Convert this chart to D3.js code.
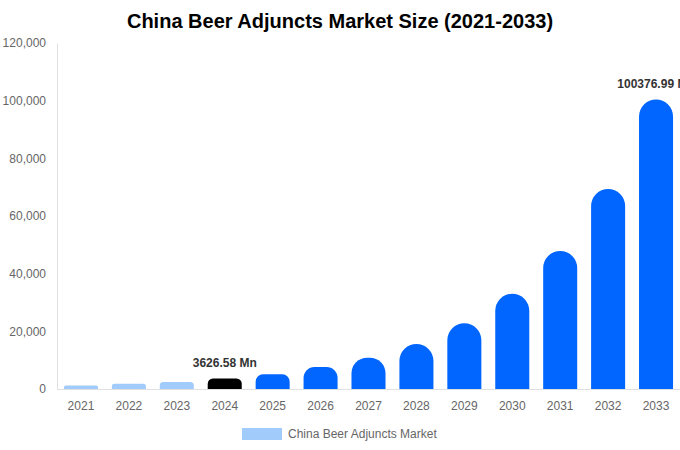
<!DOCTYPE html>
<html>
<head>
<meta charset="utf-8">
<script src="https://cdn.jsdelivr.net/npm/d3@7"></script>
<style>
  html, body { margin: 0; padding: 0; background: #fff; }
  svg { display: block; font-family: "Liberation Sans", Arial, Helvetica, sans-serif; }
</style>
</head>
<body>
<div id="chart"></div>
<script>
// datos
const years = ["2021", "2022", "2023", "2024", "2025", "2026", "2027", "2028", "2029", "2030", "2031", "2032", "2033"];
const values = [1250, 1840, 2430, 3626.58, 5100, 7630, 10860, 15600, 22790, 33060, 47870, 69370, 100376.99];
const barColors = ["#a0cbfa", "#a0cbfa", "#a0cbfa", "#000000", "#0066ff", "#0066ff", "#0066ff", "#0066ff", "#0066ff", "#0066ff", "#0066ff", "#0066ff", "#0066ff"];
const labelled = ["2024", "2033"];
const yTicks = [0, 20000, 40000, 60000, 80000, 100000, 120000];
const legendLabel = "China Beer Adjuncts Market";
const title = "China Beer Adjuncts Market Size (2021-2033)";

const width = 680, height = 450;
const margin = { top: 43, right: 0, bottom: 61, left: 57 };

const svg = d3.select("#chart").append("svg")
    .attr("width", width)
    .attr("height", height);

const x = d3.scaleBand()
    .domain(years)
    .range([margin.left, width - margin.right])
    .paddingInner(0.29)
    .paddingOuter(0.145);

const y = d3.scaleLinear()
    .domain([0, 120000])
    .range([height - margin.bottom, margin.top]);

// título
svg.append("text")
    .attr("x", width / 2)
    .attr("y", 28)
    .attr("text-anchor", "middle")
    .attr("font-size", 20)
    .attr("font-weight", "bold")
    .attr("fill", "#000")
    .text(title);

// eje y
const yAxis = svg.append("g")
    .attr("transform", `translate(${margin.left},0)`)
    .call(d3.axisLeft(y).tickValues(yTicks).tickSize(0).tickPadding(11).tickFormat(d3.format(",")));
yAxis.select(".domain").attr("stroke", "#e0e0e0");
yAxis.selectAll("text").attr("fill", "#666").attr("font-size", 12);

// eje x
const xAxis = svg.append("g")
    .attr("transform", `translate(0,${y(0)})`)
    .call(d3.axisBottom(x).tickSize(0).tickPadding(12));
xAxis.select(".domain").attr("stroke", "#e0e0e0");
xAxis.selectAll("text").attr("fill", "#666").attr("font-size", 12);

// barras con esquinas superiores redondeadas
function barPath(d, i) {
    const x0 = x(years[i]), w = x.bandwidth();
    const yTop = y(d), yBase = y(0);
    const h = yBase - yTop;
    const r = Math.min(w / 2, h / 2);
    return `M${x0},${yBase}` +
        `V${yTop + r}` +
        `A${r},${r} 0 0 1 ${x0 + r},${yTop}` +
        `H${x0 + w - r}` +
        `A${r},${r} 0 0 1 ${x0 + w},${yTop + r}` +
        `V${yBase}Z`;
}

svg.append("g")
    .selectAll("path")
    .data(values)
    .join("path")
    .attr("d", barPath)
    .attr("fill", (d, i) => barColors[i]);

// etiquetas de valor
svg.append("g")
    .selectAll("text")
    .data(years.filter(yr => labelled.includes(yr)))
    .join("text")
    .attr("x", yr => x(yr) + x.bandwidth() / 2)
    .attr("y", yr => y(values[years.indexOf(yr)]) - 12)
    .attr("text-anchor", "middle")
    .attr("font-size", 12)
    .attr("font-weight", "bold")
    .attr("fill", "#333")
    .text(yr => values[years.indexOf(yr)] + " Mn");

// leyenda
const legend = svg.append("g");
legend.append("rect")
    .attr("x", 242)
    .attr("y", 428)
    .attr("width", 40)
    .attr("height", 12)
    .attr("fill", barColors[0]);
legend.append("text")
    .attr("x", 288)
    .attr("y", 438)
    .attr("font-size", 12)
    .attr("fill", "#666")
    .text(legendLabel);
</script>
</body>
</html>
